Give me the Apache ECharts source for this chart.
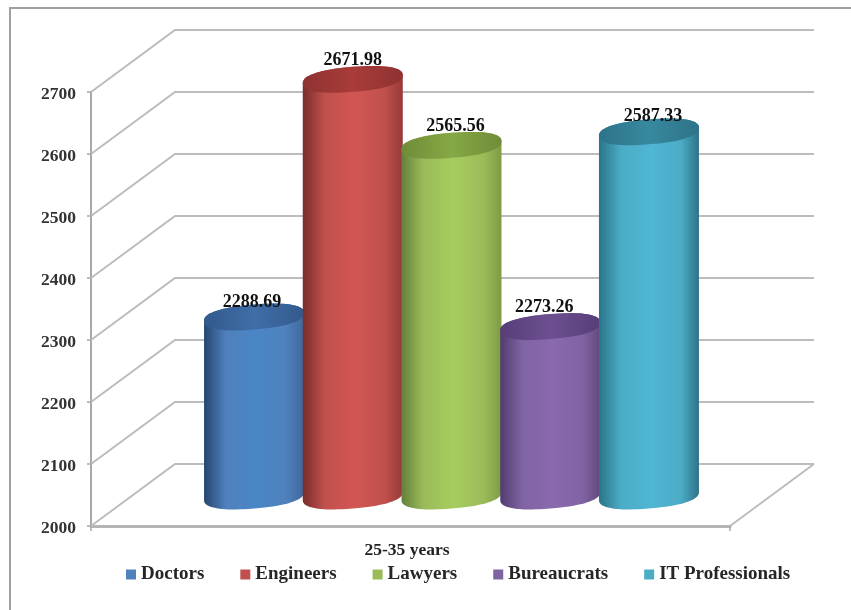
<!DOCTYPE html>
<html>
<head>
<meta charset="utf-8">
<style>html,body{margin:0;padding:0;background:#fff}#c{width:851px;height:610px;filter:blur(0.5px)}</style>
<script src="https://cdn.jsdelivr.net/npm/echarts@6/dist/echarts.min.js"></script>
</head>
<body>
<div id="c"></div>
<script>
var categories = ['25-35 years'];
var seriesNames = ['Doctors', 'Engineers', 'Lawyers', 'Bureaucrats', 'IT Professionals'];
var doctors = [2288.69];
var engineers = [2671.98];
var lawyers = [2565.56];
var bureaucrats = [2273.26];
var itProfessionals = [2587.33];
var yTicks = [2000, 2100, 2200, 2300, 2400, 2500, 2600, 2700];

var legendColors = ['#4f81bd', '#c0504d', '#9bbb59', '#8064a2', '#4bacc6'];
var sideDark = ['#26466f', '#7a2d2b', '#64803a', '#523c70', '#2a7488'];
var sideMid = ['#4a86c6', '#d25653', '#a6cd5e', '#8a69ae', '#4fb6d4'];
var sideEnd = ['#3f689c', '#98393a', '#7f9b45', '#654880', '#2e7388'];
var topLight = ['#3f6ea8', '#a83c3a', '#86a845', '#6c4f90', '#37899f'];
var topDark = ['#33598c', '#8f3231', '#6f8c38', '#573e78', '#2d7389'];
var labelShiftX = [-2, 0, 4, -6, 4];
var labelShiftY = [5, 1, 1, 1, 4];

var FONT = '"Liberation Serif","Times New Roman",serif';
var DEPTH_X = 84, DEPTH_Y = -62;
var PITCH = 0.1545, RX = 50, RY = 12.5, TILT = 4, ROUND = 0.85;

function spow(c) { return (c < 0 ? -1 : 1) * Math.pow(Math.abs(c), ROUND); }
function ellipsePoints(cx, cy, from, to, n) {
  var pts = [];
  for (var k = 0; k <= n; k++) {
    var t = from + (to - from) * k / n;
    var c = spow(Math.cos(t)), s = spow(Math.sin(t));
    pts.push([cx + RX * c, cy + RY * s - TILT * c]);
  }
  return pts;
}

function wallItem(params, api) {
  var cs = params.coordSys;
  var p = api.coord([0, api.value(0)]);
  var lines = [];
  var style = {stroke: '#bcbcbc', lineWidth: 2, fill: null};
  lines.push({type: 'polyline', shape: {points: [
    [cs.x, p[1]],
    [cs.x + DEPTH_X, p[1] + DEPTH_Y],
    [cs.x + cs.width + DEPTH_X, p[1] + DEPTH_Y]
  ]}, style: style});
  if (params.dataIndex === 0) {
    lines.push({type: 'line', shape: {
      x1: cs.x + cs.width, y1: p[1],
      x2: cs.x + cs.width + DEPTH_X, y2: p[1] + DEPTH_Y
    }, style: style});
  }
  return {type: 'group', children: lines};
}

function cylinderItem(i) {
  return function (params, api) {
    var v = api.value(1);
    var band = api.size([1, 0])[0];
    var top = api.coord([api.value(0), v]);
    var base = api.coord([api.value(0), yTicks[0]]);
    var cx = top[0] + DEPTH_X / 2 - 1 + (i - 2) * band * PITCH;
    var topY = top[1] + DEPTH_Y / 2 + 1;
    var baseY = base[1] + DEPTH_Y / 2 + 1;
    var bodyPts = ellipsePoints(cx, topY, Math.PI, 2 * Math.PI, 40)
      .concat(ellipsePoints(cx, baseY, 0, Math.PI, 40));
    var grad = new echarts.graphic.LinearGradient(0, 0, 1, 0, [
      {offset: 0, color: sideDark[i]},
      {offset: 0.22, color: legendColors[i]},
      {offset: 0.52, color: sideMid[i]},
      {offset: 0.82, color: legendColors[i]},
      {offset: 1, color: sideEnd[i]}
    ]);
    var topGrad = new echarts.graphic.LinearGradient(0, 0, 1, 0, [
      {offset: 0, color: topDark[i]},
      {offset: 0.5, color: topLight[i]},
      {offset: 1, color: topDark[i]}
    ]);
    return {
      type: 'group',
      children: [
        {type: 'polygon', shape: {points: bodyPts}, style: {fill: grad}},
        {type: 'polygon', shape: {points: ellipsePoints(cx, topY, 0, 2 * Math.PI, 80)}, style: {fill: topGrad}},
        {type: 'text', x: cx + labelShiftX[i], y: topY - 20 + labelShiftY[i], z2: 50, style: {
          text: api.value(1).toFixed(2), fill: '#111', font: 'bold 18px ' + FONT,
          align: 'center', verticalAlign: 'middle'
        }}
      ]
    };
  };
}

var valueLists = [doctors, engineers, lawyers, bureaucrats, itProfessionals];

var series = [{
  type: 'custom', name: 'wall', silent: true, clip: false, z: 1,
  coordinateSystem: 'cartesian2d',
  renderItem: wallItem,
  encode: {y: 0},
  data: yTicks.map(function (t) { return [t]; })
}];
seriesNames.forEach(function (name, i) {
  series.push({
    type: 'custom', name: name, clip: false, z: 3 + i,
    coordinateSystem: 'cartesian2d',
    renderItem: cylinderItem(i),
    itemStyle: {color: legendColors[i]},
    encode: {x: 0, y: 1},
    data: valueLists[i].map(function (v, k) { return [k, v]; })
  });
});

var chart = echarts.init(document.getElementById('c'), null, {renderer: 'canvas'});
chart.setOption({
  animation: false,
  backgroundColor: '#ffffff',
  grid: {left: 91, right: 121, top: 92, bottom: 84},
  graphic: [{
    type: 'polyline', silent: true, z: -1,
    shape: {points: [[10, 610], [10, 8], [851, 8]]},
    style: {fill: null, stroke: '#a0a0a0', lineWidth: 2}
  }],
  legend: {
    data: seriesNames, left: 121, top: 560,
    icon: 'rect', itemWidth: 10, itemHeight: 10, itemGap: 36,
    textStyle: {fontFamily: FONT, fontWeight: 'bold', fontSize: 19, color: '#262626'},
    selectedMode: false
  },
  xAxis: {
    type: 'category', data: categories,
    axisLine: {show: true, onZero: false, lineStyle: {color: '#b5b5b5', width: 3}},
    axisTick: {show: true, length: 5, lineStyle: {color: '#a8a8a8', width: 1.5}},
    axisLabel: {margin: 15, padding: [0, 7, 0, 0], fontFamily: FONT, fontWeight: 'bold', fontSize: 17.5, color: '#222'},
    splitLine: {show: false}
  },
  yAxis: {
    type: 'value', min: yTicks[0], max: yTicks[yTicks.length - 1], interval: yTicks[1] - yTicks[0],
    axisLine: {show: true, lineStyle: {color: '#a8a8a8', width: 2}},
    axisTick: {show: true, length: 4, lineStyle: {color: '#a8a8a8', width: 1.5}},
    axisLabel: {margin: 15, formatter: function (v) { return '{t|' + v + '}'; },
      rich: {t: {padding: [4, 0, 0, 0], fontFamily: FONT, fontWeight: 'bold', fontSize: 17.5, color: '#333'}}},
    splitLine: {show: false}
  },
  series: series
});
</script>
</body>
</html>
